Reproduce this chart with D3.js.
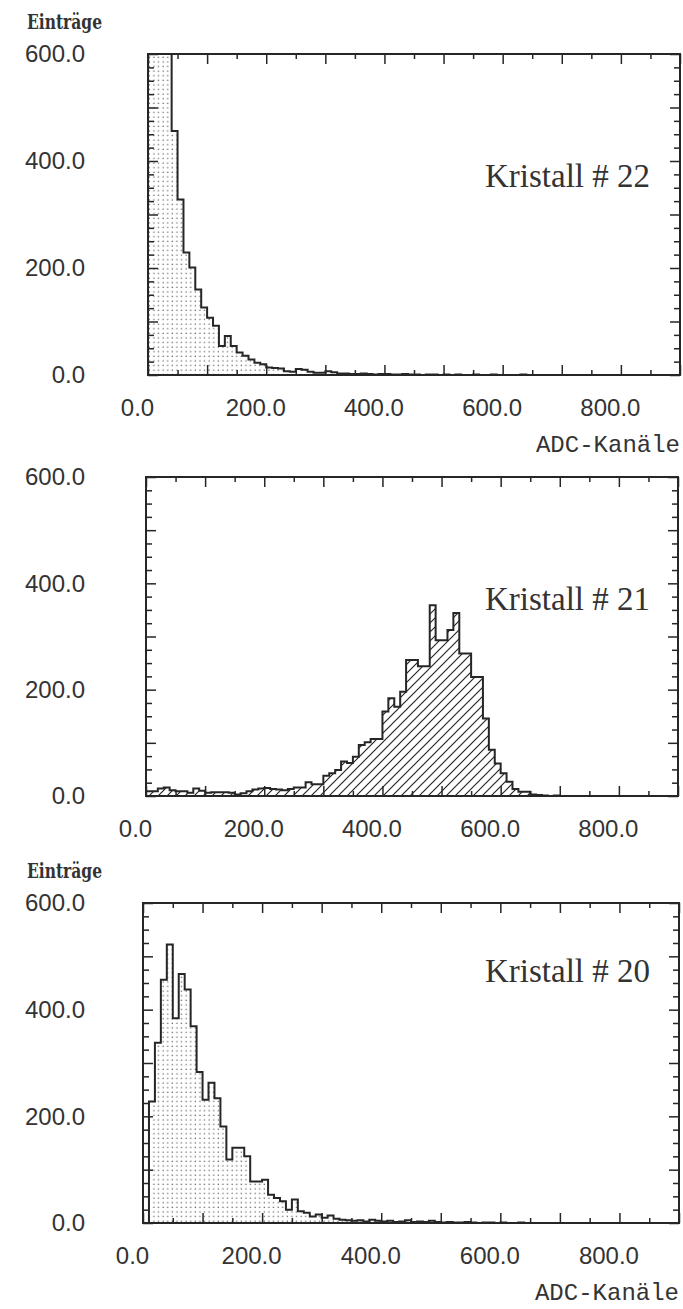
<!DOCTYPE html>
<html><head><meta charset="utf-8">
<script src="https://cdn.jsdelivr.net/npm/d3@7"></script>
<style>body{margin:0;background:#fff}</style></head>
<body><svg id="c" width="683" height="1309"></svg>
<script>
// ---------- data ----------
const binWidth = 10;
const xDomain = [0, 900];
const yDomain = [0, 600];
const xLabelValues = [0, 200, 400, 600, 800];
const yLabelValues = [0, 200, 400, 600];
const yAxisTitle = "Einträge";
const xAxisTitle = "ADC-Kanäle";
const panelTitles = ["Kristall # 22", "Kristall # 21", "Kristall # 20"];

// counts per 10-channel bin starting at channel 0 (values >= 600 are off scale)
const kristall22 = [600,600,600,600,456,328,229,201,160,126,
  107,92,54,73,54,42,36,29,23,20,
  14,13,12,7,6,11,10,6,4,4,
  7,5,3,3,2,2,3,2,1,2,
  2,1,1,2,1,1,0,1,1,0,
  1,0,1,0,0,1,0,0,1,0,
  0,0,0,1,0,0,0,0,0,0,
  0,0,0,0,0,0,0,0,0,0,
  0,0,0,0,0,0,0,0,0,0];
const kristall21 = [9,9,14,16,11,9,9,6,14,10,
  6,7,7,7,6,3,5,9,12,14,
  15,13,12,11,13,16,16,26,22,22,
  38,43,49,65,62,74,96,101,107,107,
  159,184,168,196,256,256,244,244,359,293,
  293,312,344,268,268,224,224,146,87,61,
  43,27,13,8,8,3,2,1,0,1,
  0,0,0,0,0,0,0,0,0,0,
  0,0,0,0,0,0,0,0,0,0];
const kristall20 = [0,228,338,456,522,384,467,438,369,283,
  231,263,234,181,119,141,141,125,78,78,
  81,53,47,41,25,44,22,19,12,16,
  10,14,8,6,5,4,5,3,6,4,
  3,4,2,3,5,2,3,2,4,2,
  1,2,1,1,2,1,0,1,1,0,
  1,0,0,1,0,0,0,0,0,0,
  0,0,0,0,0,0,0,0,0,0,
  0,0,0,0,0,0,0,0,0,0];

// ---------- layout ----------
const panels = [
  {data: kristall22, fill: "url(#dots)", box: {l:148, r:680, t:54, b:375}, yTitle: true, xTitle: true, titleY: 187},
  {data: kristall21, fill: "url(#hatch)", box: {l:146, r:678, t:477, b:796}, yTitle: false, xTitle: false, titleY: 610},
  {data: kristall20, fill: "url(#dots)", box: {l:143, r:679, t:903, b:1223}, yTitle: true, xTitle: true, titleY: 982}
];
const ink = "#262626";
const labelFont = "'Liberation Sans', Arial, sans-serif";
const titleFont = "'Liberation Serif', 'Times New Roman', serif";
const slabFont = "'DejaVu Serif', serif";
const monoFont = "'Liberation Mono', 'Courier New', monospace";

const svg = d3.select("#c");
const defs = svg.append("defs");
const dots = defs.append("pattern").attr("id","dots").attr("patternUnits","userSpaceOnUse")
  .attr("width",4.6).attr("height",4.6);
dots.append("rect").attr("x",1.5).attr("y",1.5).attr("width",1.3).attr("height",1.3).attr("fill","#6e6e6e");
const hatch = defs.append("pattern").attr("id","hatch").attr("patternUnits","userSpaceOnUse")
  .attr("width",9).attr("height",9);
hatch.append("path").attr("d","M0,9 L9,0 M-3,3 L3,-3 M6,12 L12,6")
  .attr("stroke",ink).attr("stroke-width",1.2).attr("fill","none");

panels.forEach((p, pi) => {
  const B = p.box;
  const x = d3.scaleLinear().domain(xDomain).range([B.l, B.r]);
  const y = d3.scaleLinear().domain(yDomain).range([B.b, B.t]);
  const g = svg.append("g");
  const clipId = "clip" + pi;
  defs.append("clipPath").attr("id", clipId).append("rect")
    .attr("x", B.l).attr("y", B.t).attr("width", B.r - B.l).attr("height", B.b - B.t);

  // histogram outline points
  const pts = [[x(0), y(0)]];
  p.data.forEach((v, i) => {
    const vv = Math.min(v, yDomain[1]);
    pts.push([x(i * binWidth), y(vv)]);
    pts.push([x((i + 1) * binWidth), y(vv)]);
  });
  pts.push([x(p.data.length * binWidth), y(0)]);
  const line = d3.line().curve(d3.curveLinear);
  const hg = g.append("g").attr("clip-path", `url(#${clipId})`);
  hg.append("path").attr("d", line(pts) + "Z").attr("fill", p.fill).attr("stroke", "none");
  hg.append("path").attr("d", line(pts)).attr("fill", "none").attr("stroke", ink)
    .attr("stroke-width", 2).attr("stroke-linejoin", "miter");

  // ticks via axes (inward)
  const major = d3.range(0, 901, 100), minor = d3.range(50, 901, 100);
  const yMajor = d3.range(0, 601, 100), yMinor = d3.range(0, 601, 25).filter(d => d % 100);
  const tickAxis = (ax, tr) => {
    const a = g.append("g").attr("transform", tr).call(ax);
    a.select(".domain").remove();
    a.selectAll("line").attr("stroke", ink).attr("stroke-width", 1.5);
  };
  tickAxis(d3.axisBottom(x).tickValues(major).tickSize(-10).tickFormat(""), `translate(0,${B.b})`);
  tickAxis(d3.axisBottom(x).tickValues(minor).tickSize(-5).tickFormat(""), `translate(0,${B.b})`);
  tickAxis(d3.axisTop(x).tickValues(major).tickSize(-10).tickFormat(""), `translate(0,${B.t})`);
  tickAxis(d3.axisTop(x).tickValues(minor).tickSize(-5).tickFormat(""), `translate(0,${B.t})`);
  tickAxis(d3.axisLeft(y).tickValues(yMajor).tickSize(-10).tickFormat(""), `translate(${B.l},0)`);
  tickAxis(d3.axisLeft(y).tickValues(yMinor).tickSize(-6).tickFormat(""), `translate(${B.l},0)`);
  tickAxis(d3.axisRight(y).tickValues(yMajor).tickSize(-10).tickFormat(""), `translate(${B.r},0)`);
  tickAxis(d3.axisRight(y).tickValues(yMinor).tickSize(-6).tickFormat(""), `translate(${B.r},0)`);

  // frame
  g.append("rect").attr("x", B.l).attr("y", B.t).attr("width", B.r - B.l).attr("height", B.b - B.t)
    .attr("fill", "none").attr("stroke", ink).attr("stroke-width", 2);

  // tick labels via axes
  const fmt = d3.format(".1f");
  const xl = g.append("g").attr("transform", `translate(0,${B.b})`)
    .call(d3.axisBottom(x).tickValues(xLabelValues).tickFormat(fmt).tickSize(0).tickPadding(24));
  xl.select(".domain").remove();
  xl.attr("font-size", 24).attr("font-family", labelFont);
  xl.selectAll("text").attr("dx", -11).attr("fill", "#333");
  const yl = g.append("g").attr("transform", `translate(${B.l},0)`)
    .call(d3.axisLeft(y).tickValues(yLabelValues).tickFormat(fmt).tickSize(0).tickPadding(B.l - 85));
  yl.select(".domain").remove();
  yl.attr("font-size", 24).attr("font-family", labelFont);
  yl.selectAll("text").attr("fill", "#333");

  // titles
  g.append("text").attr("x", 485).attr("y", p.titleY).text(panelTitles[pi])
    .attr("font-family", titleFont).attr("font-size", 33).attr("fill", "#333");
  if (p.yTitle) {
    g.append("text").attr("x", 27).attr("y", B.t - 25).text(yAxisTitle)
      .attr("font-family", slabFont).attr("font-weight", "bold").attr("font-size", 20).attr("fill", "#333")
      .attr("textLength", 75).attr("lengthAdjust", "spacingAndGlyphs");
  }
  if (p.xTitle) {
    g.append("text").attr("x", B.r).attr("y", B.b + 77).attr("text-anchor", "end").text(xAxisTitle)
      .attr("font-family", monoFont).attr("font-size", 24).attr("fill", "#333");
  }
});
</script>
</body></html>
